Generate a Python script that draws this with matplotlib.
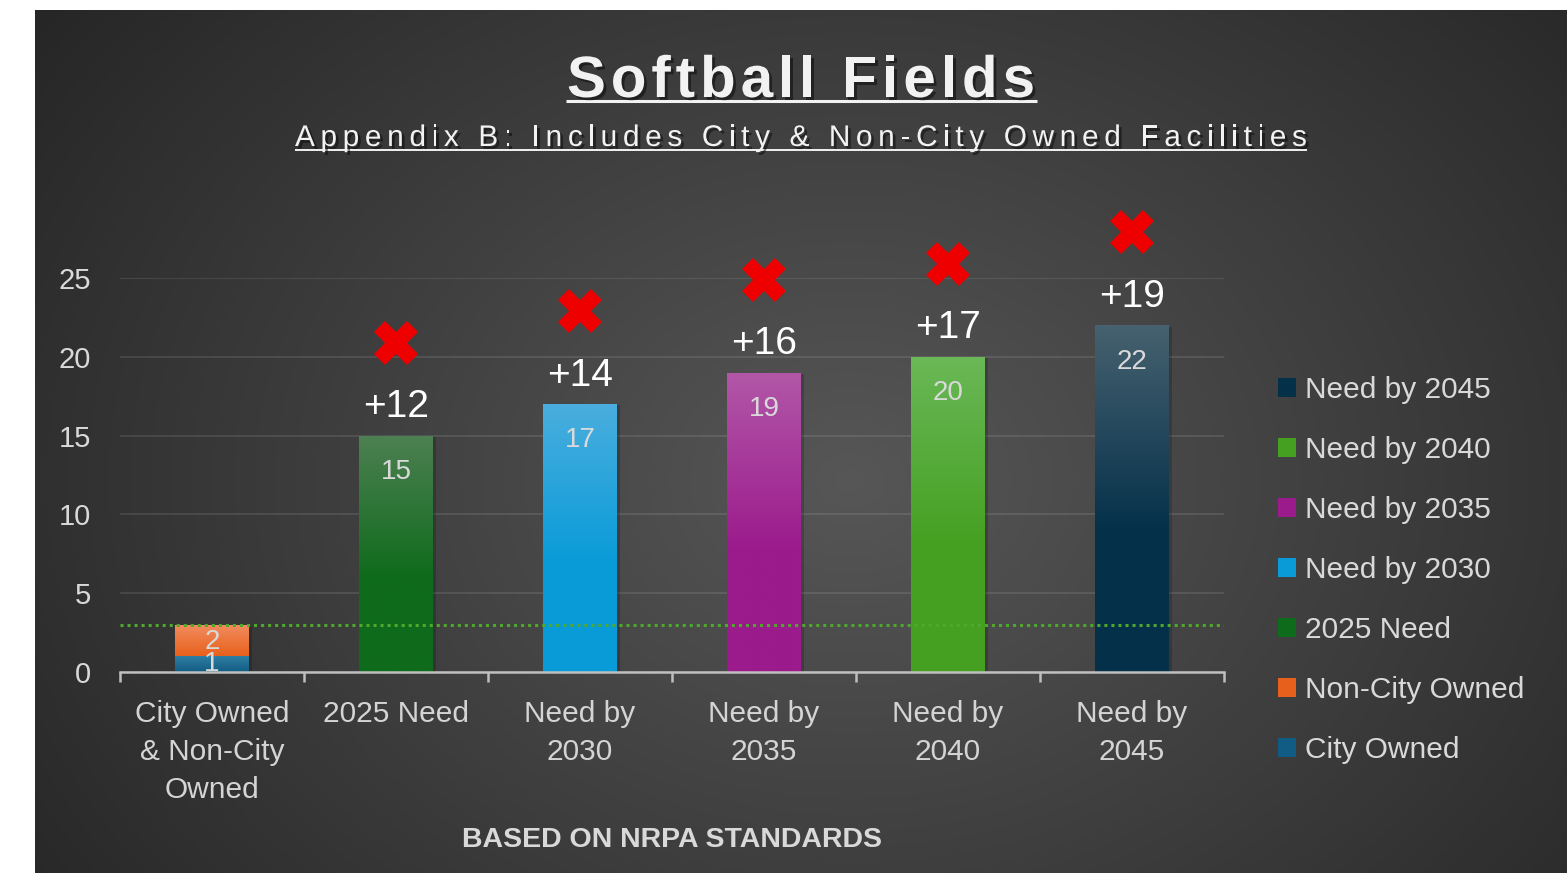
import numpy as np
import matplotlib
matplotlib.use('Agg')
import matplotlib.pyplot as plt
import matplotlib.patheffects as pe
from matplotlib.patches import Patch
from matplotlib.colors import to_rgb

plt.rcParams['font.family'] = ['Liberation Sans', 'DejaVu Sans']

# donnees du graphique
categories = ['City Owned\n& Non-City\nOwned', '2025 Need', 'Need by\n2030',
              'Need by\n2035', 'Need by\n2040', 'Need by\n2045']
city_owned = 1
non_city_owned = 2
need_labels = ['2025 Need', 'Need by 2030', 'Need by 2035', 'Need by 2040', 'Need by 2045']
needs = [15, 17, 19, 20, 22]
gaps = ['+12', '+14', '+16', '+17', '+19']
existing = 3
yticks = [0, 5, 10, 15, 20, 25]

title = 'Softball Fields'
subtitle = 'Appendix B: Includes City & Non-City Owned Facilities'
footer = 'BASED ON NRPA STANDARDS'

# couleurs (haut, bas) pour les degrades
city_cols = ('#2f7ea3', '#115c84')
noncity_cols = ('#f28d60', '#e8611c')
need_cols = [('#4d8052', '#0f6b1c'), ('#4aaede', '#089bd8'), ('#b257a8', '#9b1a8c'),
             ('#6ab857', '#45a021'), ('#46616f', '#04304a')]

W, H = 1567, 873
fig = plt.figure(figsize=(W / 100, H / 100), dpi=100)
fig.patch.set_facecolor('white')

# fond degrade
bg = fig.add_axes([0, 0, 1, 1], zorder=0)
yy, xx = np.mgrid[10:H, 35:W]
d = np.sqrt(((xx - 850) / 900.0) ** 2 + ((yy - 480) / 700.0) ** 2)
v = np.clip(0.34 - 0.17 * d, 0, 1)
bg.imshow(np.dstack([v, v, v]), extent=[35, W, H, 10], aspect='auto', interpolation='bilinear')
bg.set_xlim(0, W)
bg.set_ylim(H, 0)
bg.axis('off')

ax = fig.add_axes([120 / W, 1 - 672 / H, (1224 - 120) / W, (672 - 278) / H], zorder=1)
ax.patch.set_alpha(0)

shadow = [pe.SimplePatchShadow(offset=(2, -1), shadow_rgbFace='black', alpha=0.18), pe.Normal()]


def fill_grad(bar, top, bot, frac=0.6):
    x0, y0 = bar.get_x(), bar.get_y()
    w, h = bar.get_width(), bar.get_height()
    t = np.clip(np.linspace(0, 1, 200) / frac, 0, 1)[:, None]
    c = (1 - t) * np.array(to_rgb(top)) + t * np.array(to_rgb(bot))
    im = ax.imshow(c[:, None, :], extent=[x0, x0 + w, y0, y0 + h], origin='upper',
                   aspect='auto', zorder=3)
    im.set_clip_path(bar)


x = np.arange(len(categories))
bw = 0.4

b = ax.bar(x[0], city_owned, bw, color=city_cols[1], zorder=2, path_effects=shadow)[0]
fill_grad(b, *city_cols, frac=1.0)
b = ax.bar(x[0], non_city_owned, bw, bottom=city_owned, color=noncity_cols[1], zorder=2,
           path_effects=shadow)[0]
fill_grad(b, *noncity_cols, frac=1.0)
ax.text(x[0], city_owned / 2, str(city_owned), ha='center', va='center', fontsize=20,
        color='#d9d9d9', zorder=6)
ax.text(x[0], city_owned + non_city_owned / 2 - 0.1, str(non_city_owned), ha='center',
        va='center', fontsize=20, color='#d9d9d9', zorder=6)

for i, n in enumerate(needs):
    b = ax.bar(x[i + 1], n, bw, color=need_cols[i][1], zorder=2, path_effects=shadow)[0]
    fill_grad(b, *need_cols[i])
    ax.text(x[i + 1], n - 2.3, str(n), ha='center', va='center', fontsize=20,
            color='#d9d9d9', zorder=6)
    ax.text(x[i + 1], n + 1.8, gaps[i], ha='center', va='center', fontsize=28,
            color='white', zorder=6, clip_on=False)
    ax.plot(x[i + 1], n + 5.9, marker='X', ms=31, color='#ee0000', mew=0,
            zorder=6, clip_on=False)

ax.axhline(existing, color='#4ea82c', lw=2.2, ls=(0, (1, 1.3)), zorder=4)

ax.set_xlim(-0.5, 5.5)
ax.set_ylim(0, 25)
ax.set_xticks(x, categories)
ax.set_xticks(np.arange(-0.5, 6, 1), minor=True)
ax.tick_params(axis='x', which='major', length=0, pad=20, labelsize=21.5, labelcolor='#d4d4d4')
ax.tick_params(axis='x', which='minor', length=7, width=1.8, color='#bfbfbf', direction='out')
for lab in ax.get_xticklabels():
    lab.set_linespacing(1.45)
ax.set_yticks(yticks)
ax.tick_params(axis='y', length=0, pad=21, labelsize=21, labelcolor='#d9d9d9')
for s in ['top', 'right', 'left']:
    ax.spines[s].set_visible(False)
ax.spines['bottom'].set_color('#bfbfbf')
ax.spines['bottom'].set_linewidth(1.8)
ax.spines['bottom'].set_zorder(5)
ax.yaxis.grid(True, color='white', alpha=0.13, lw=1.1)
ax.set_axisbelow(True)

# legende (ordre inverse)
handles = [Patch(facecolor=c[1]) for c in need_cols[::-1]]
handles += [Patch(facecolor=noncity_cols[1]), Patch(facecolor=city_cols[1])]
labels = need_labels[::-1] + ['Non-City Owned', 'City Owned']
fig.legend(handles, labels, loc='center left', bbox_to_anchor=(1278 / W, 1 - 570 / H),
           frameon=False, fontsize=21.5, labelcolor='#d9d9d9', handlelength=0.6,
           handleheight=0.6, handletextpad=0.3, labelspacing=1.07, borderpad=0,
           borderaxespad=0)


# texte espace (lettres une par une)
def spaced_text(cx, y, s, target, **kw):
    r = fig.canvas.get_renderer()

    def width(t):
        tt = bg.text(0, 0, t, **kw)
        w = tt.get_window_extent(r).width
        tt.remove()
        return w

    bar_w = width('|')
    adv = [width(s[:i] + '|') - bar_w for i in range(len(s))]
    full = width(s)
    gap = (target - full) / (len(s) - 1)
    x0 = cx - target / 2
    for i, ch in enumerate(s):
        if ch != ' ':
            bg.text(x0 + adv[i] + i * gap, y, ch, ha='left', va='baseline', **kw)
    return x0


tshadow = [pe.withSimplePatchShadow(offset=(2, -2), shadow_rgbFace='black', alpha=0.45)]
x0 = spaced_text(801, 97, title, 468, fontsize=42, fontweight='bold', color='#f2f2f2',
                 path_effects=tshadow)
bg.plot([x0 - 1, x0 + 470], [100.5, 100.5], color='#f2f2f2', lw=2.2, solid_capstyle='butt')
x0 = spaced_text(801, 146, subtitle, 1012, fontsize=21.5, color='#f2f2f2',
                 path_effects=tshadow)
bg.plot([x0, x0 + 1012], [149.5, 149.5], color='#f2f2f2', lw=1.4, solid_capstyle='butt')

bg.text(672, 840, footer, ha='center', va='center', fontsize=20.5, fontweight='bold',
        color='#d9d9d9')

fig.savefig('out.png', dpi=100)
